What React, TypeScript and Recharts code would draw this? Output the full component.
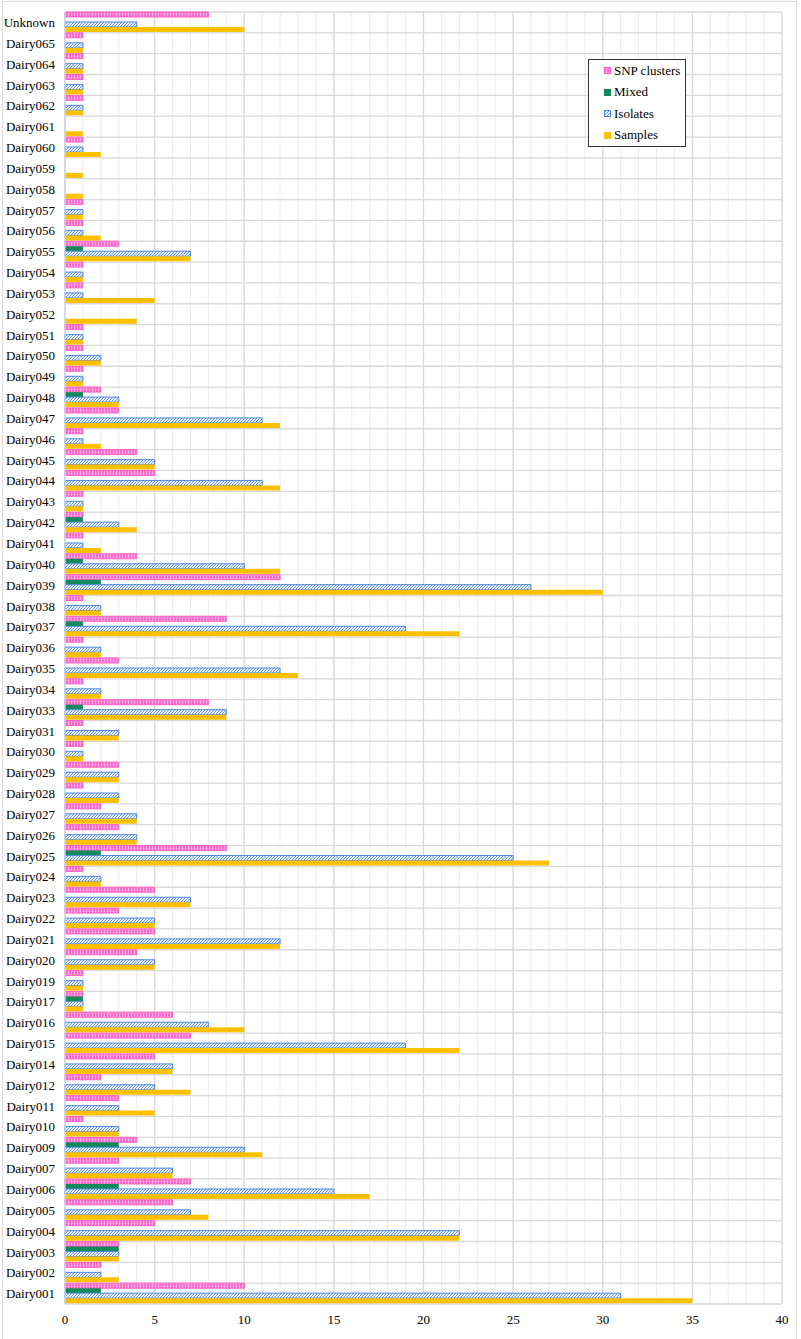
import { BarChart, Bar, XAxis, YAxis, CartesianGrid, Legend } from "recharts";

// farms listed top to bottom as in the figure
const farms = [
  "Unknown", "Dairy065", "Dairy064", "Dairy063", "Dairy062", "Dairy061", "Dairy060", "Dairy059",
  "Dairy058", "Dairy057", "Dairy056", "Dairy055", "Dairy054", "Dairy053", "Dairy052", "Dairy051",
  "Dairy050", "Dairy049", "Dairy048", "Dairy047", "Dairy046", "Dairy045", "Dairy044", "Dairy043",
  "Dairy042", "Dairy041", "Dairy040", "Dairy039", "Dairy038", "Dairy037", "Dairy036", "Dairy035",
  "Dairy034", "Dairy033", "Dairy031", "Dairy030", "Dairy029", "Dairy028", "Dairy027", "Dairy026",
  "Dairy025", "Dairy024", "Dairy023", "Dairy022", "Dairy021", "Dairy020", "Dairy019", "Dairy017",
  "Dairy016", "Dairy015", "Dairy014", "Dairy012", "Dairy011", "Dairy010", "Dairy009", "Dairy007",
  "Dairy006", "Dairy005", "Dairy004", "Dairy003", "Dairy002", "Dairy001",
];

const snpClusters = [
  8, 1, 1, 1, 1, 0, 1, 0,
  0, 1, 1, 3, 1, 1, 0, 1,
  1, 1, 2, 3, 1, 4, 5, 1,
  1, 1, 4, 12, 1, 9, 1, 3,
  1, 8, 1, 1, 3, 1, 2, 3,
  9, 1, 5, 3, 5, 4, 1, 1,
  6, 7, 5, 2, 3, 1, 4, 3,
  7, 6, 5, 3, 2, 10,
];

const mixed = [
  0, 0, 0, 0, 0, 0, 0, 0,
  0, 0, 0, 1, 0, 0, 0, 0,
  0, 0, 1, 0, 0, 0, 0, 0,
  1, 0, 1, 2, 0, 1, 0, 0,
  0, 1, 0, 0, 0, 0, 0, 0,
  2, 0, 0, 0, 0, 0, 0, 1,
  0, 0, 0, 0, 0, 0, 3, 0,
  3, 0, 0, 3, 0, 2,
];

const isolates = [
  4, 1, 1, 1, 1, 0, 1, 0,
  0, 1, 1, 7, 1, 1, 0, 1,
  2, 1, 3, 11, 1, 5, 11, 1,
  3, 1, 10, 26, 2, 19, 2, 12,
  2, 9, 3, 1, 3, 3, 4, 4,
  25, 2, 7, 5, 12, 5, 1, 1,
  8, 19, 6, 5, 3, 3, 10, 6,
  15, 7, 22, 3, 2, 31,
];

const samples = [
  10, 1, 1, 1, 1, 1, 2, 1,
  1, 1, 2, 7, 1, 5, 4, 1,
  2, 1, 3, 12, 2, 5, 12, 1,
  4, 2, 12, 30, 2, 22, 2, 13,
  2, 9, 3, 1, 3, 3, 4, 4,
  27, 2, 7, 5, 12, 5, 1, 1,
  10, 22, 6, 7, 5, 3, 11, 6,
  17, 8, 22, 3, 3, 35,
];

const xTicks = [0, 5, 10, 15, 20, 25, 30, 35, 40];
const X_MAX = 40;

const data = farms.map((farm, i) => ({
  farm,
  snp: snpClusters[i],
  mixed: mixed[i],
  isolates: isolates[i],
  samples: samples[i],
}));

const series = [
  { key: "snp", name: "SNP clusters", fill: "url(#snpPattern)", stroke: "#ff5fc4" },
  { key: "mixed", name: "Mixed", fill: "#138a5c", stroke: "none" },
  { key: "isolates", name: "Isolates", fill: "url(#isoPattern)", stroke: "#4f86dc" },
  { key: "samples", name: "Samples", fill: "#ffc000", stroke: "none" },
];

const FONT = '"Liberation Serif", "Times New Roman", serif';

const LegendBox = () => (
  <div
    style={{
      width: 96,
      height: 86,
      border: "1px solid #333",
      background: "#fff",
      fontFamily: FONT,
      fontSize: 13,
      color: "#000",
    }}
  >
    {series.map((s) => (
      <div key={s.key} style={{ height: 21.5, display: "flex", alignItems: "center", paddingLeft: 15 }}>
        <svg width={7} height={7} style={{ marginRight: 3 }}>
          <rect x={0.5} y={0.5} width={6} height={6} fill={s.fill} stroke={s.stroke === "none" ? s.fill : s.stroke} />
        </svg>
        <span>{s.name}</span>
      </div>
    ))}
  </div>
);

const minorLines = ({ offset }: any) =>
  Array.from({ length: X_MAX + 1 }, (_, i) => offset.left + (i / X_MAX) * offset.width);

const bandLines = ({ offset }: any) =>
  Array.from({ length: farms.length + 1 }, (_, i) => offset.top + (i / farms.length) * offset.height);

export default function App() {
  return (
    <div style={{ position: "absolute", left: 0, top: 0, width: 801, height: 1339, background: "#fff", overflow: "hidden" }}>
      <div
        style={{
          position: "absolute",
          left: 2,
          top: 1,
          width: 795,
          height: 1345,
          border: "1px solid #dcdcdc",
          boxSizing: "border-box",
        }}
      />
      <BarChart
        width={801}
        height={1339}
        data={data}
        layout="vertical"
        margin={{ top: 12, right: 19, bottom: 5, left: 5 }}
        barCategoryGap={0}
        barGap={0}
        style={{ position: "absolute", left: 0, top: 0 }}
      >
        <defs>
          <pattern id="snpPattern" width={3} height={3} patternUnits="userSpaceOnUse">
            <rect width={3} height={3} fill="#ff66cc" />
            <rect x={2} width={1} height={3} fill="#ffb8e6" />
            <rect y={2} width={3} height={0.6} fill="#ff9ad9" />
          </pattern>
          <pattern id="isoPattern" width={3} height={3} patternUnits="userSpaceOnUse">
            <rect width={3} height={3} fill="#eef4fd" />
            <path d="M-1,1 L1,-1 M0,3 L3,0 M2,4 L4,2" stroke="#6a9be6" strokeWidth={1} />
          </pattern>
        </defs>
        <CartesianGrid
          horizontal={false}
          stroke="#ececec"
          verticalCoordinatesGenerator={minorLines}
        />
        <CartesianGrid
          stroke="#d9d9d9"
          strokeWidth={1.3}
          horizontalCoordinatesGenerator={bandLines}
        />
        <XAxis
          type="number"
          domain={[0, X_MAX]}
          ticks={xTicks}
          height={30}
          axisLine={false}
          tickLine={false}
          tickMargin={5}
          tick={{ fontSize: 13, fontFamily: FONT, fill: "#000" }}
        />
        <YAxis
          type="category"
          dataKey="farm"
          width={60}
          interval={0}
          axisLine={{ stroke: "#c8d6ec", strokeWidth: 1.3 }}
          tickLine={false}
          tickMargin={4}
          tick={{ fontSize: 13, fontFamily: FONT, fill: "#000" }}
        />
        <Legend
          layout="horizontal"
          verticalAlign="middle"
          align="center"
          wrapperStyle={{ top: 59, left: 588, width: 98, height: 88 }}
          content={() => <LegendBox />}
        />
        {series.map((s) => (
          <Bar
            key={s.key}
            dataKey={s.key}
            name={s.name}
            fill={s.fill}
            stroke={s.stroke}
            strokeWidth={1}
            isAnimationActive={false}
          />
        ))}
      </BarChart>
    </div>
  );
}
